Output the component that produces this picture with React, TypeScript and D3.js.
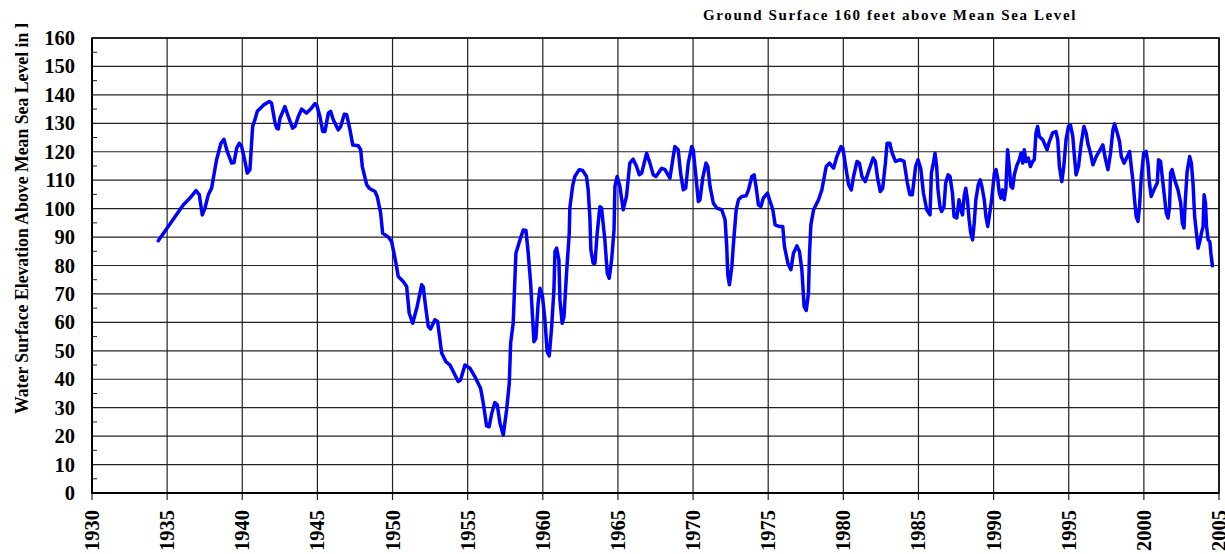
import React, { useRef, useEffect } from 'react';
import * as d3 from 'd3';

// water level readings (decimal year, feet above mean sea level)
const years = [
  1934.41, 1936.07, 1936.52, 1936.92, 1937.14, 1937.34, 1937.52, 1937.74, 1937.96, 1938.29,
  1938.58, 1938.78, 1939.0, 1939.29, 1939.45, 1939.63, 1939.8, 1939.96, 1940.18, 1940.33,
  1940.51, 1940.69, 1940.84, 1941.0, 1941.44, 1941.8, 1941.95, 1942.18, 1942.29, 1942.4,
  1942.51, 1942.84, 1943.06, 1943.35, 1943.51, 1943.73, 1943.95, 1944.28, 1944.55, 1944.84,
  1944.95, 1945.17, 1945.35, 1945.5, 1945.73, 1945.88, 1946.06, 1946.39, 1946.55, 1946.79,
  1946.95, 1947.17, 1947.35, 1947.72, 1947.88, 1947.99, 1948.28, 1948.45, 1948.83, 1948.98,
  1949.21, 1949.34, 1949.72, 1949.94, 1950.23, 1950.38, 1950.71, 1950.94, 1951.11, 1951.34,
  1951.64, 1951.94, 1952.04, 1952.2, 1952.38, 1952.53, 1952.82, 1953.0, 1953.27, 1953.55,
  1953.82, 1954.04, 1954.37, 1954.53, 1954.82, 1955.15, 1955.48, 1955.86, 1956.04, 1956.26,
  1956.43, 1956.6, 1956.81, 1956.97, 1957.15, 1957.37, 1957.59, 1957.77, 1957.86, 1958.03,
  1958.21, 1958.48, 1958.7, 1958.88, 1959.03, 1959.19, 1959.29, 1959.41, 1959.54, 1959.69,
  1959.81, 1959.98, 1960.14, 1960.29, 1960.43, 1960.59, 1960.74, 1960.81, 1960.92, 1961.07,
  1961.14, 1961.29, 1961.41, 1961.58, 1961.76, 1961.8, 1961.98, 1962.13, 1962.42, 1962.65,
  1962.91, 1963.02, 1963.13, 1963.2, 1963.35, 1963.47, 1963.62, 1963.8, 1963.91, 1964.13,
  1964.29, 1964.42, 1964.58, 1964.74, 1964.8, 1964.95, 1965.13, 1965.35, 1965.57, 1965.79,
  1966.01, 1966.24, 1966.42, 1966.58, 1966.91, 1967.13, 1967.35, 1967.53, 1967.91, 1968.13,
  1968.46, 1968.68, 1968.79, 1969.01, 1969.17, 1969.35, 1969.51, 1969.68, 1969.91, 1970.01,
  1970.19, 1970.35, 1970.46, 1970.64, 1970.86, 1970.98, 1971.13, 1971.35, 1971.58, 1971.91,
  1972.13, 1972.24, 1972.31, 1972.42, 1972.58, 1972.69, 1972.87, 1973.02, 1973.24, 1973.53,
  1973.69, 1973.91, 1974.06, 1974.19, 1974.35, 1974.51, 1974.68, 1974.95, 1975.09, 1975.31,
  1975.46, 1975.75, 1975.97, 1976.08, 1976.31, 1976.51, 1976.68, 1976.91, 1977.08, 1977.24,
  1977.39, 1977.53, 1977.68, 1977.75, 1977.84, 1978.02, 1978.35, 1978.57, 1978.86, 1979.08,
  1979.35, 1979.57, 1979.84, 1979.97, 1980.12, 1980.35, 1980.53, 1980.68, 1980.91, 1981.07,
  1981.24, 1981.46, 1981.68, 1981.98, 1982.13, 1982.28, 1982.46, 1982.62, 1982.8, 1982.91,
  1983.09, 1983.25, 1983.47, 1983.81, 1984.04, 1984.26, 1984.43, 1984.59, 1984.81, 1984.97,
  1985.15, 1985.33, 1985.55, 1985.77, 1985.86, 1985.99, 1986.1, 1986.21, 1986.3, 1986.43,
  1986.54, 1986.7, 1986.81, 1986.97, 1987.1, 1987.26, 1987.37, 1987.55, 1987.7, 1987.82,
  1987.93, 1988.04, 1988.15, 1988.26, 1988.37, 1988.48, 1988.6, 1988.71, 1988.82, 1988.98,
  1989.11, 1989.22, 1989.38, 1989.49, 1989.61, 1989.71, 1989.87, 1990.05, 1990.16, 1990.27,
  1990.38, 1990.49, 1990.6, 1990.71, 1990.82, 1990.93, 1991.04, 1991.15, 1991.27, 1991.38,
  1991.56, 1991.71, 1991.82, 1991.94, 1992.04, 1992.16, 1992.31, 1992.45, 1992.6, 1992.71,
  1992.82, 1992.93, 1993.04, 1993.27, 1993.42, 1993.56, 1993.71, 1993.93, 1994.15, 1994.27,
  1994.38, 1994.54, 1994.67, 1994.82, 1994.98, 1995.11, 1995.27, 1995.38, 1995.49, 1995.65,
  1995.83, 1996.01, 1996.16, 1996.27, 1996.45, 1996.61, 1996.83, 1997.27, 1997.43, 1997.61,
  1997.78, 1997.94, 1998.05, 1998.23, 1998.38, 1998.5, 1998.68, 1998.9, 1999.05, 1999.16,
  1999.28, 1999.38, 1999.49, 1999.61, 1999.71, 1999.83, 1999.99, 2000.15, 2000.27, 2000.37,
  2000.49, 2000.67, 2000.89, 2000.98, 2001.11, 2001.27, 2001.49, 2001.61, 2001.71, 2001.78,
  2001.88, 2002.05, 2002.27, 2002.45, 2002.56, 2002.67, 2002.76, 2002.88, 2003.05, 2003.16,
  2003.27, 2003.38, 2003.5, 2003.61, 2003.72, 2003.83, 2003.94, 2004.01, 2004.1, 2004.17,
  2004.28, 2004.39, 2004.46, 2004.56,
];

const levels = [
  88.7, 101.3, 103.7, 106.3, 104.9, 97.8, 100.2, 104.9, 107.2, 117.2,
  123.0, 124.4, 120.1, 116.0, 116.2, 121.3, 123.0, 121.8, 116.6, 112.5,
  113.7, 128.9, 131.2, 134.2, 136.5, 137.7, 137.1, 130.1, 128.3, 128.0,
  131.8, 135.9, 132.4, 128.3, 128.9, 132.4, 135.0, 133.6, 135.0, 136.9,
  136.5, 132.4, 127.1, 127.1, 133.6, 134.2, 131.2, 127.7, 128.9, 133.2,
  133.0, 127.7, 122.4, 122.1, 120.7, 114.8, 108.4, 107.2, 106.0, 104.3,
  98.4, 91.4, 90.0, 88.4, 80.8, 76.1, 74.4, 72.6, 63.2, 59.7,
  65.6, 73.2, 72.6, 65.6, 58.5, 57.7, 60.9, 60.3, 49.2, 46.2,
  45.0, 42.7, 39.2, 39.8, 45.0, 43.9, 40.9, 36.8, 31.6, 23.6,
  23.3, 28.0, 31.8, 31.0, 24.5, 20.4, 29.2, 38.6, 52.7, 59.7,
  84.3, 89.0, 92.5, 92.3, 84.3, 73.8, 64.4, 53.2, 54.4, 66.7,
  72.0, 69.1, 60.9, 49.7, 48.2, 58.5, 71.4, 84.9, 86.1, 82.0,
  67.9, 59.7, 62.0, 77.3, 91.4, 100.2, 107.8, 111.3, 113.7, 113.4,
  111.3, 106.6, 97.2, 85.5, 80.8, 80.8, 91.4, 100.7, 100.2, 89.0,
  77.3, 75.5, 82.0, 92.5, 107.8, 111.3, 107.8, 99.6, 104.3, 116.0,
  117.4, 114.8, 111.9, 112.5, 119.5, 116.0, 111.9, 111.3, 114.2, 113.7,
  110.7, 118.3, 121.8, 120.7, 112.5, 106.6, 107.2, 116.0, 121.8, 120.7,
  111.3, 102.5, 103.1, 110.7, 116.0, 114.8, 107.8, 101.9, 100.2, 99.6,
  96.1, 86.7, 76.7, 73.2, 79.6, 87.9, 99.6, 103.1, 104.3, 104.5,
  106.6, 111.3, 111.9, 107.8, 101.3, 100.7, 103.7, 105.5, 103.1, 99.6,
  94.3, 93.7, 93.7, 86.7, 80.8, 78.5, 84.3, 86.9, 84.9, 78.5,
  65.6, 64.2, 70.3, 84.3, 94.3, 99.6, 103.1, 106.6, 114.8, 116.0,
  114.2, 118.3, 121.8, 121.3, 116.0, 108.4, 106.6, 111.3, 116.6, 116.0,
  111.3, 109.5, 113.1, 117.8, 116.6, 110.7, 106.0, 107.2, 116.0, 123.0,
  123.0, 119.5, 116.6, 117.2, 116.6, 109.0, 104.9, 104.9, 114.8, 117.2,
  114.2, 105.5, 99.6, 97.8, 112.5, 116.0, 119.5, 114.8, 106.6, 100.7,
  99.0, 100.7, 109.0, 111.9, 111.3, 105.5, 97.2, 96.7, 103.1, 99.6,
  97.8, 104.3, 107.2, 103.1, 96.1, 91.4, 89.0, 94.9, 103.1, 108.4,
  110.1, 107.8, 103.1, 97.2, 93.7, 97.2, 103.1, 112.5, 113.7, 110.7,
  105.5, 103.7, 106.6, 103.1, 107.2, 120.7, 114.8, 107.8, 107.2, 111.9,
  115.4, 117.2, 119.5, 116.0, 120.7, 116.6, 117.8, 114.8, 116.6, 117.2,
  126.6, 128.9, 125.4, 124.2, 122.4, 120.7, 123.6, 126.6, 127.1, 124.2,
  114.8, 109.5, 114.8, 124.2, 128.9, 129.5, 125.4, 118.3, 111.9, 114.8,
  123.0, 128.9, 126.6, 123.0, 119.5, 115.4, 118.3, 122.4, 117.8, 113.7,
  119.5, 127.7, 129.8, 126.6, 123.6, 118.3, 116.0, 118.3, 120.1, 114.8,
  109.5, 103.1, 97.2, 95.5, 100.7, 111.3, 119.5, 120.1, 116.0, 109.0,
  104.3, 106.6, 109.0, 117.2, 116.6, 109.0, 98.4, 96.7, 100.7, 112.5,
  113.7, 110.1, 106.6, 102.0, 94.9, 93.2, 103.1, 113.1, 118.3, 116.0,
  109.0, 97.2, 91.4, 86.1, 88.4, 91.4, 93.7, 104.9, 102.0, 93.7,
  89.0, 88.4, 84.3, 79.9,
];

const yearTicks = d3.range(1930, 2006, 5);
const levelTicks = d3.range(0, 161, 10);
const minorTicks = d3.range(5, 160, 10);

const title = 'Ground Surface 160 feet above Mean Sea Level';
const yLabel = 'Water Surface Elevation Above Mean Sea Level in Feet';

const App = () => {
  const svgRef = useRef(null);

  useEffect(() => {
    const width = 1225;
    const height = 554;
    const left = 92, right = 1219, top = 38, bottom = 493;
    const font = '"Liberation Serif", "Times New Roman", serif';

    const svg = d3.select(svgRef.current);
    svg.selectAll('*').remove();
    svg.attr('width', width).attr('height', height);

    const x = d3.scaleLinear().domain([1930, 2005]).range([left, right]);
    const y = d3.scaleLinear().domain([0, 160]).range([bottom, top]);

    // grid
    svg.append('g')
      .selectAll('line')
      .data(levelTicks)
      .enter()
      .append('line')
      .attr('x1', left).attr('x2', right)
      .attr('y1', d => y(d)).attr('y2', d => y(d))
      .attr('stroke', '#222')
      .attr('stroke-width', 1.2);

    svg.append('g')
      .selectAll('line')
      .data(yearTicks)
      .enter()
      .append('line')
      .attr('x1', d => x(d)).attr('x2', d => x(d))
      .attr('y1', top).attr('y2', bottom + 7)
      .attr('stroke', '#222')
      .attr('stroke-width', 1.2);

    // minor ticks on the left axis
    svg.append('g')
      .selectAll('line')
      .data(minorTicks)
      .enter()
      .append('line')
      .attr('x1', left).attr('x2', left + 5)
      .attr('y1', d => y(d)).attr('y2', d => y(d))
      .attr('stroke', '#222')
      .attr('stroke-width', 1);

    // frame
    svg.append('rect')
      .attr('x', left).attr('y', top)
      .attr('width', right - left).attr('height', bottom - top)
      .attr('fill', 'none')
      .attr('stroke', '#000')
      .attr('stroke-width', 1.5);
    svg.append('line')
      .attr('x1', left).attr('x2', right)
      .attr('y1', bottom).attr('y2', bottom)
      .attr('stroke', '#000').attr('stroke-width', 2.2);
    svg.append('line')
      .attr('x1', left).attr('x2', left)
      .attr('y1', top).attr('y2', bottom)
      .attr('stroke', '#000').attr('stroke-width', 2);

    // y tick labels
    svg.append('g')
      .selectAll('text')
      .data(levelTicks)
      .enter()
      .append('text')
      .attr('x', 75)
      .attr('y', d => y(d) + 7)
      .attr('text-anchor', 'end')
      .style('font-family', font)
      .style('font-weight', 'bold')
      .style('font-size', '20.5px')
      .text(d => d);

    // x tick labels (rotated)
    svg.append('g')
      .selectAll('text')
      .data(yearTicks)
      .enter()
      .append('text')
      .attr('transform', d => `translate(${x(d) + 7},510) rotate(-90)`)
      .attr('text-anchor', 'end')
      .style('font-family', font)
      .style('font-weight', 'bold')
      .style('font-size', '20.5px')
      .text(d => d);

    // water level line
    const line = d3.line()
      .x(i => x(years[i]))
      .y(i => y(levels[i]));

    svg.append('path')
      .attr('d', line(d3.range(years.length)))
      .attr('fill', 'none')
      .attr('stroke', '#0000ff')
      .attr('stroke-width', 3.5)
      .attr('stroke-linejoin', 'round')
      .attr('stroke-linecap', 'round');

    // title
    svg.append('text')
      .attr('x', 890)
      .attr('y', 20)
      .attr('text-anchor', 'middle')
      .style('font-family', font)
      .style('font-weight', 'bold')
      .style('font-size', '15px')
      .style('letter-spacing', '1.6px')
      .text(title);

    // y axis label, clipped at the top like the original
    svg.append('clipPath')
      .attr('id', 'ylab-clip')
      .append('rect')
      .attr('x', 0).attr('y', 24)
      .attr('width', 60).attr('height', 500);

    svg.append('g')
      .attr('clip-path', 'url(#ylab-clip)')
      .append('text')
      .attr('transform', 'translate(28,414) rotate(-90) scale(0.91,1)')
      .attr('text-anchor', 'start')
      .style('font-family', font)
      .style('font-weight', 'bold')
      .style('font-size', '19.5px')
      .text(yLabel);
  }, []);

  return <svg ref={svgRef} style={{ display: 'block', position: 'absolute', left: 0, top: 0 }}></svg>;
};

export default App;
